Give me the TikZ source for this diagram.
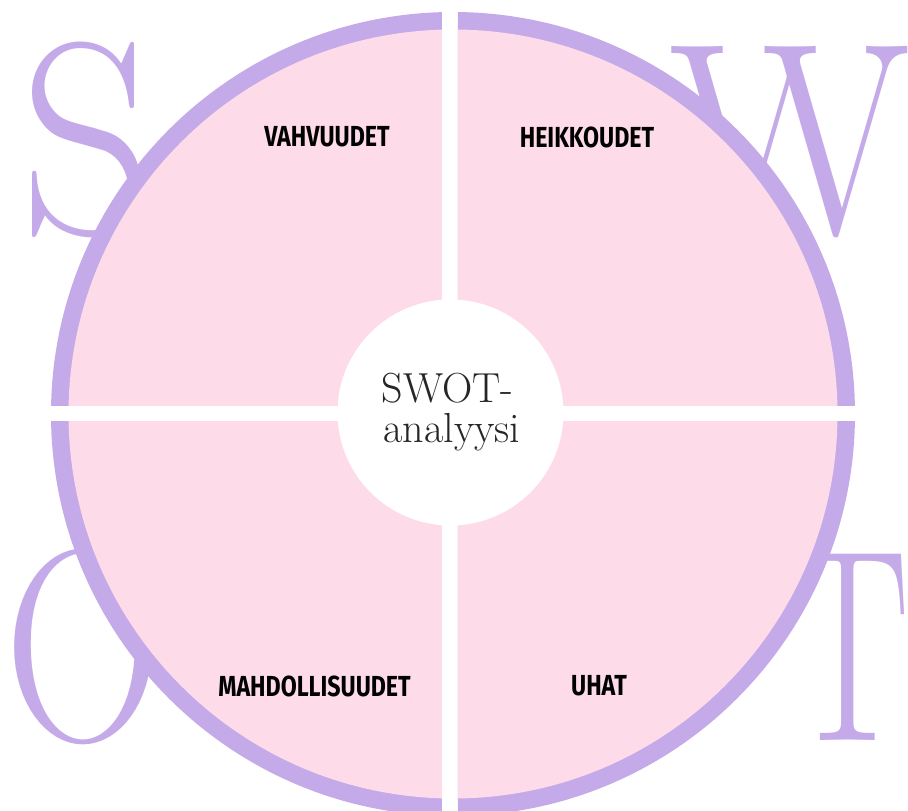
\documentclass[tikz,border=0pt]{standalone}
\usepackage{fontspec}
\newfontfamily\labelfont{Fira Sans}[FakeStretch=0.8]
\definecolor{ringpurple}{HTML}{C4AAE8}
\definecolor{quadpink}{HTML}{FDDBE8}
\begin{document}
\begin{tikzpicture}[x=1pt,y=1pt,
  bigletter/.style={inner sep=0pt, text=ringpurple, font=\fontsize{274}{274}\selectfont},
  quadlabel/.style={inner sep=0pt, font=\labelfont\bfseries\fontsize{29}{29}\selectfont},
  centertext/.style={inner sep=0pt, text=black!85, font=\fontsize{42}{42}\selectfont}]
\useasboundingbox (-450,-397) rectangle (458,414);
% big background letters
\node[bigletter, anchor=base west, xscale=0.95] (S) at (-430,180) {S};
\node[bigletter, anchor=base west, xscale=0.92] (W) at (219,180) {W};
\node[bigletter, anchor=base west, xscale=0.80] (O) at (-446,-326) {O};
\node[bigletter, anchor=base east, xscale=0.68] (T) at (460,-326) {T};
% quadrants
\foreach \sx/\sy in {-1/1, 1/1, -1/-1, 1/-1} {
  \begin{scope}
    \clip (8*\sx, 8*\sy) rectangle (500*\sx, 500*\sy);
    \fill[ringpurple] (3,0) circle (402);
    \fill[quadpink] (3,0) circle (384.5);
  \end{scope}
}
% hub
\node[circle, fill=white, minimum size=226pt, inner sep=0pt] (hub) at (0.5,1.5) {};
\node[centertext, anchor=base] (swot) at (-2.5,11) {SWOT-};
\node[centertext, anchor=base] (ana) at (2,-29) {analyysi};
% labels
\node[quadlabel] (vahv) at (-123,277) {VAHVUUDET};
\node[quadlabel] (heik) at (137,277) {HEIKKOUDET};
\node[quadlabel] (mahd) at (-135.5,-272.5) {MAHDOLLISUUDET};
\node[quadlabel] (uhat) at (149,-272) {UHAT};
\end{tikzpicture}
\end{document}
